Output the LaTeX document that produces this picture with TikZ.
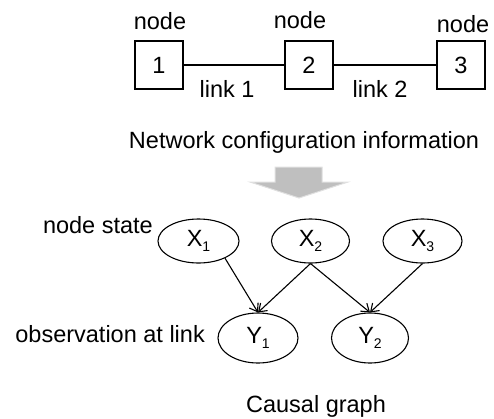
\documentclass[tikz,border=0pt]{standalone}
\usepackage{fontspec}
\setmainfont{Liberation Sans}
\usetikzlibrary{arrows.meta,shapes.geometric}
\newcommand{\sub}[1]{\raisebox{-5pt}{\fontsize{14}{14}\selectfont #1}}
\tikzset{
  netbox/.style={draw, line width=1.1pt, minimum width=48pt, minimum height=48pt, inner sep=0pt},
  var/.style={draw, ellipse, line width=1.1pt, inner sep=0pt},
  lbl/.style={anchor=base, inner sep=0pt},
  edge/.style={line width=1.1pt},
  cause/.style={line width=1.1pt, -{Straight Barb[angle=70:9pt, line width=1.1pt]}},
  bigarrow/.style={fill=black!25, draw=black!12, line width=1pt, line join=miter},
}
\begin{document}
\begin{tikzpicture}[x=1pt, y=-1pt, font=\fontsize{23.5}{28}\selectfont]
\useasboundingbox (0,0) rectangle (494,418);

% network: three nodes joined by two links
\node[netbox] (n1) at (159,65) {1};
\node[netbox] (n2) at (309,65) {2};
\node[netbox] (n3) at (461,65) {3};
\draw[edge] (n1) -- (n2);
\draw[edge] (n2) -- (n3);
\node[lbl] (t1) at (160,29) {node};
\node[lbl] (t2) at (300,28) {node};
\node[lbl] (t3) at (463,32) {node};
\node[lbl] (l1) at (227,97) {link 1};
\node[lbl] (l2) at (380,97) {link 2};
\node[lbl] (cap1) at (304,148) {Network configuration information};

% block arrow
\draw[bigarrow] (275,167) -- (322,167) -- (322,182) -- (348,182) -- (299,198)
  -- (250,182) -- (275,182) -- cycle;

% causal graph
\node[var, minimum width=81pt, minimum height=44pt] (x1) at (198.5,241) {X\sub{1}};
\node[var, minimum width=78pt, minimum height=44pt] (x2) at (310.5,241) {X\sub{2}};
\node[var, minimum width=79pt, minimum height=44pt] (x3) at (422.5,241) {X\sub{3}};
\node[var, minimum width=80pt, minimum height=50pt] (y1) at (258,338) {Y\sub{1}};
\node[var, minimum width=77pt, minimum height=50pt] (y2) at (370,338) {Y\sub{2}};
\draw[cause] (x1.-33) -- (y1.north);
\draw[cause] (x2.south) -- (y1.north);
\draw[cause] (x2.south) -- (y2.north);
\draw[cause] (x3.south) -- (y2.north);

\node[anchor=base east, inner sep=0pt] (ns) at (153,233) {node state};
\node[anchor=base east, inner sep=0pt] (ob) at (205,342) {observation at link};
\node[lbl] (cap2) at (316,412) {Causal graph};
\end{tikzpicture}
\end{document}
